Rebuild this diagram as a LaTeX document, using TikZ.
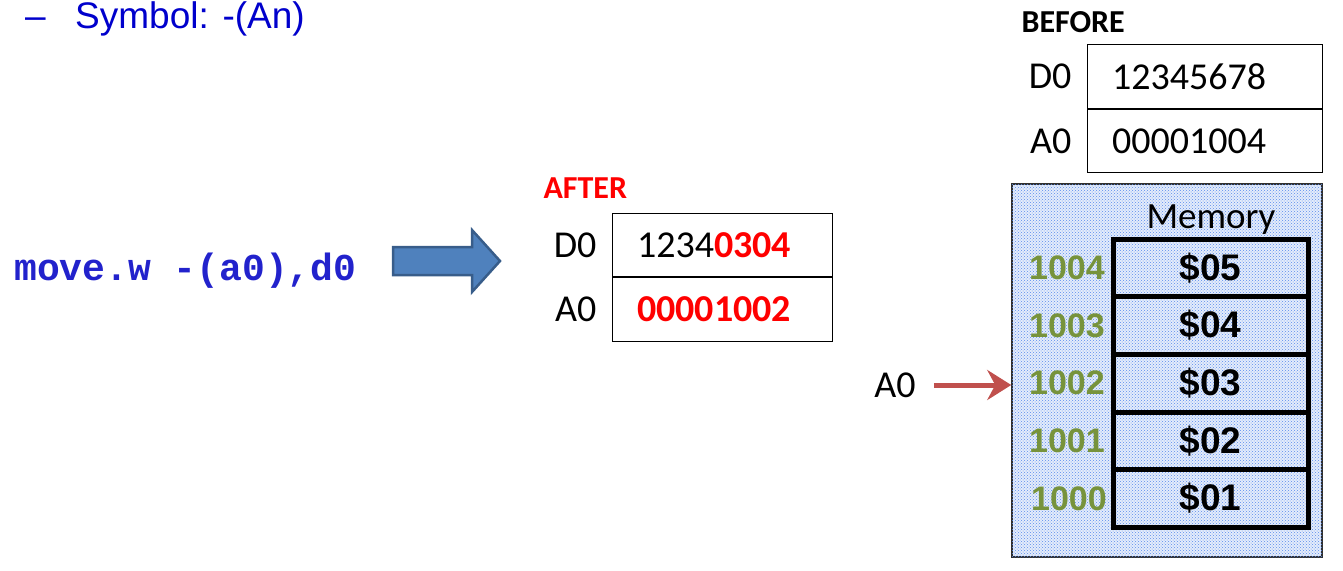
\documentclass[tikz,border=0pt]{standalone}
\usepackage{fontspec}
\setmainfont{Carlito}
\setmonofont{Liberation Mono}
\newfontfamily\arialfont{Liberation Sans}
\usepackage{xcolor}
\definecolor{cCode}{HTML}{2222CC}
\definecolor{cBullet}{HTML}{0000CC}
\definecolor{cRed}{HTML}{FF0000}
\definecolor{cAddr}{HTML}{77933C}
\definecolor{cMemBg}{HTML}{E4ECFB}
\definecolor{cMemDot}{HTML}{5A8CEC}
\definecolor{cMemEdge}{HTML}{303030}
\definecolor{cFlow}{HTML}{4F81BD}
\definecolor{cFlowEdge}{HTML}{385D8A}
\definecolor{cPtr}{HTML}{C0504D}
\usepackage{tikz}
\usetikzlibrary{positioning,arrows.meta,patterns}
\tikzset{
  reg-box/.style={draw,thick,minimum height=63.5pt,inner xsep=25pt,
    align=left,font=\fontsize{38}{44}\selectfont},
  reg-label/.style={font=\fontsize{38}{44}\selectfont,inner sep=3pt},
  reg-title/.style={font=\bfseries\fontsize{32}{38}\selectfont,anchor=base west},
  mem-frame/.style={draw=cMemEdge,line width=1.5pt,fill=cMemBg,
    postaction={pattern=crosshatch dots,pattern color=cMemDot},
    minimum width=310pt,minimum height=373pt},
  mem-cell/.style={draw,line width=5pt,outer sep=0pt,minimum width=195pt,
    minimum height=57.6pt,font=\arialfont\bfseries\fontsize{37}{42}\selectfont},
  mem-addr/.style={text=cAddr,font=\arialfont\bfseries\fontsize{34}{40}\selectfont,
    inner sep=0pt},
  ptr-arrow/.style={-{Stealth[length=24pt,width=30pt,inset=8pt]},line width=5pt,
    draw=cPtr},
  flow-arrow/.style={fill=cFlow,draw=cFlowEdge,line width=2.5pt,line join=miter},
}

\begin{document}
\begin{tikzpicture}[x=1pt,y=-1pt]
  \useasboundingbox (0,0) rectangle (1343,570);
  % bullet line
  \node[anchor=base west,text=cBullet,font=\arialfont\fontsize{37}{42}\selectfont,
    inner sep=0pt] (dash) at (25,28) {\textendash};
  \node[anchor=base west,text=cBullet,font=\arialfont\fontsize{37}{42}\selectfont,
    inner sep=0pt] (symbol) at (75,28) {Symbol: -(An)};

  % instruction
  \node[anchor=base west,text=cCode,font=\ttfamily\bfseries\fontsize{38}{44}\selectfont,
    inner sep=0pt] (instr) at (14,280) {move.w -(a0),d0};
  \draw[flow-arrow] (393,247) -- (472,247) -- (472,230) -- (500,261)
    -- (472,292) -- (472,275) -- (393,275) -- cycle;

  % registers after
  \node[reg-title,text=cRed] (after) at (540,198) {AFTER};
  \node[reg-box,text width=170pt] (d0-after) at (722,245)
    {1234\textcolor{cRed}{\bfseries 0304}};
  \node[reg-box,text width=170pt,below=0pt of d0-after] (a0-after)
    {\textcolor{cRed}{\bfseries 00001002}};
  \node[reg-label,left=12pt of d0-after] (d0-after-lbl) {D0};
  \node[reg-label,left=12pt of a0-after] (a0-after-lbl) {A0};

  % registers before
  \node[reg-title] (before) at (1018,32) {BEFORE};
  \node[reg-box,text width=185pt] (d0-before) at (1204.5,76.5) {12345678};
  \node[reg-box,text width=185pt,below=0pt of d0-before] (a0-before) {00001004};
  \node[reg-label,left=12pt of d0-before] (d0-before-lbl) {D0};
  \node[reg-label,left=12pt of a0-before] (a0-before-lbl) {A0};

  % memory
  \node[mem-frame] (mem) at (1167,370.5) {};
  \node[anchor=base,font=\fontsize{37}{42}\selectfont] (mem-title) at (1211,228) {Memory};
  \node[mem-cell] (m5) at (1210.5,268) {\$05};
  \node[mem-cell,below=0pt of m5] (m4) {\$04};
  \node[mem-cell,below=0pt of m4] (m3) {\$03};
  \node[mem-cell,below=0pt of m3] (m2) {\$02};
  \node[mem-cell,below=0pt of m2] (m1) {\$01};
  \node[mem-addr,left=8pt of m5] (addr5) {1004};
  \node[mem-addr,left=8pt of m4] (addr4) {1003};
  \node[mem-addr,left=8pt of m3] (addr3) {1002};
  \node[mem-addr,left=8pt of m2] (addr2) {1001};
  \node[mem-addr,left=6pt of m1] (addr1) {1000};

  % pointer
  \node[reg-label] (a0-ptr) at (895,385) {A0};
  \draw[ptr-arrow,shorten <=15pt] (a0-ptr) -- (a0-ptr -| mem.west);
\end{tikzpicture}
\end{document}
